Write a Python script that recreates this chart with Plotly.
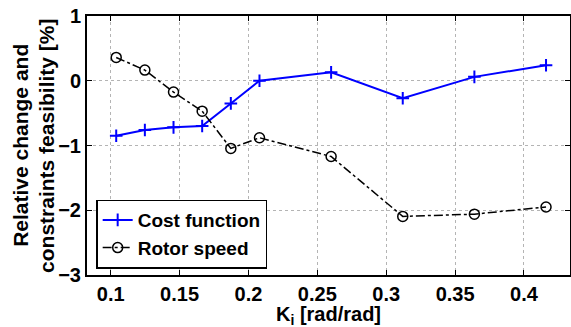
import plotly.graph_objects as go

ki = [0.104, 0.1248, 0.1456, 0.1664, 0.1872, 0.208, 0.26, 0.312, 0.364, 0.416]
cost_function = [-0.85, -0.76, -0.72, -0.70, -0.35, 0.0, 0.13, -0.27, 0.06, 0.24]
rotor_speed = [0.36, 0.165, -0.175, -0.47, -1.045, -0.88, -1.17, -2.095, -2.06, -1.95]
x_ticks = [0.1, 0.15, 0.2, 0.25, 0.3, 0.35, 0.4]
x_tick_labels = ["0.1", "0.15", "0.2", "0.25", "0.3", "0.35", "0.4"]
y_ticks = [-3, -2, -1, 0, 1]
x_title = "K<sub>i</sub> [rad/rad]"
y_title_lines = ["Relative change and", "constraints feasibility [%]"]

FONT = "Liberation Sans, Arial, sans-serif"

fig = go.Figure()
fig.add_trace(go.Scatter(
    x=ki, y=cost_function, name="Cost function", mode="lines+markers",
    line=dict(color="#0000ff", width=2),
    marker=dict(symbol="cross-thin", size=9, line=dict(color="#0000ff", width=2)),
))
fig.add_trace(go.Scatter(
    x=ki, y=rotor_speed, name="Rotor speed", mode="lines+markers",
    line=dict(color="black", width=1.5, dash="dashdot"),
    marker=dict(symbol="circle-open", size=10, color="black", line=dict(color="black", width=1.5)),
))

axis_common = dict(
    showline=True, linecolor="black", linewidth=2, mirror="allticks",
    ticks="inside", ticklen=5, tickwidth=1, tickcolor="black",
    showgrid=True, gridcolor="#b4b4b4", gridwidth=1, griddash="dot",
    zeroline=False, automargin=False,
    tickfont=dict(family=FONT, size=20, color="black", weight="bold"),
)

fig.update_layout(
    width=571, height=327,
    margin=dict(l=87, r=1, t=16, b=52, autoexpand=False),
    paper_bgcolor="white", plot_bgcolor="white",
    font=dict(family=FONT, color="black"),
    showlegend=True,
    legend=dict(
        x=0.019, y=0.025, xanchor="left", yanchor="bottom",
        bgcolor="white", bordercolor="black", borderwidth=1.5,
        font=dict(family=FONT, size=19, color="black", weight="bold"),
        tracegroupgap=0, itemwidth=30,
    ),
)
fig.update_xaxes(range=[0.0828, 0.4334], tickvals=x_ticks, ticktext=x_tick_labels, **axis_common)
fig.update_yaxes(range=[-3, 1], tickvals=y_ticks, **axis_common)

fig.add_annotation(
    text=x_title, xref="paper", yref="paper", x=0.5, y=-0.1, xanchor="center", yanchor="top",
    showarrow=False, font=dict(family=FONT, size=20, weight="bold", color="black"),
)
for i, line in enumerate(y_title_lines):
    fig.add_annotation(
        text=line, xref="paper", yref="paper", x=-0.138 + 0.054 * i, y=0.5,
        xanchor="center", yanchor="middle", textangle=-90,
        showarrow=False, font=dict(family=FONT, size=21, weight="bold", color="black"),
    )

fig.write_html(
    "out.html",
    config={"displayModeBar": False},
    post_script="document.body.style.margin='0';document.body.style.overflow='hidden';",
)
